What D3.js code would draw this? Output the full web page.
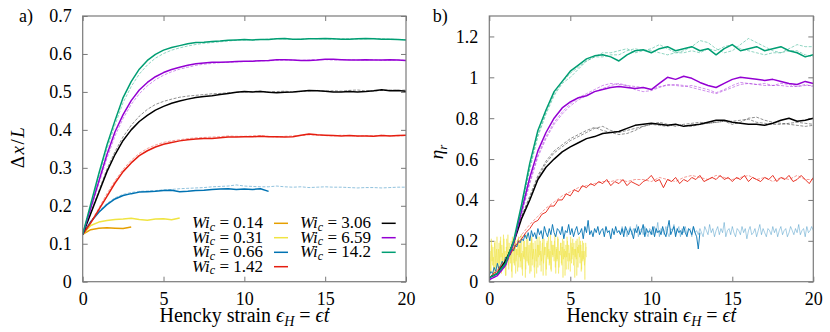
<!DOCTYPE html>
<html><head><meta charset="utf-8">
<script src="https://cdn.jsdelivr.net/npm/d3@7"></script>
<style>
body{margin:0;background:#fff}
</style>
</head><body>
<svg id="c" width="830" height="332"></svg>
<script>
// ---------- data ----------
const strain = [0,0.5,1,1.5,2,2.5,3,3.5,4,4.5,5,5.5,6,6.5,7,7.5,8,8.5,9,9.5,10,10.5,11,11.5,12,12.5,13,13.5,14,14.5,15,15.5,16,16.5,17,17.5,18,18.5,19,19.5,20];
const xTicks = [0,5,10,15,20];
const yTicksA = [0,0.1,0.2,0.3,0.4,0.5,0.6,0.7];
const yTicksB = [0,0.2,0.4,0.6,0.8,1,1.2];
const wiLabels = ["0.14","0.31","0.66","1.42","3.06","6.59","14.2"];
const colors = ["#E69F00","#F0E442","#0072B2","#E51E10","#000000","#9400D3","#009E73"];

// panel a: Δx/L
const orangeA = [0.125,0.137,0.141,0.142,0.141,0.14,0.144];
const yellowA = [0.125,0.148,0.157,0.161,0.164,0.165,0.167,0.164,0.162,0.165,0.166,0.163,0.168];
const blueA = [0.125,0.158,0.183,0.203,0.218,0.227,0.232,0.236,0.237,0.238,0.24,0.241,0.237,0.238,0.24,0.241,0.243,0.244,0.245,0.243,0.244,0.243,0.245,0.238];
const blueA2 = [0.125,0.16,0.186,0.206,0.221,0.23,0.235,0.238,0.239,0.24,0.242,0.243,0.245,0.246,0.247,0.248,0.25,0.251,0.252,0.255,0.252,0.251,0.25,0.25,0.252,0.25,0.249,0.25,0.248,0.249,0.25,0.249,0.249,0.248,0.247,0.248,0.248,0.247,0.248,0.249,0.249];
const redA = [0.125,0.155,0.19,0.225,0.26,0.29,0.313,0.332,0.345,0.355,0.362,0.367,0.371,0.374,0.376,0.377,0.377,0.379,0.381,0.381,0.382,0.382,0.383,0.382,0.382,0.381,0.382,0.386,0.389,0.387,0.386,0.385,0.384,0.385,0.384,0.384,0.383,0.385,0.384,0.385,0.386];
const redA2 = [0.125,0.157,0.194,0.232,0.266,0.296,0.32,0.338,0.351,0.36,0.367,0.371,0.374,0.377,0.379,0.38,0.381,0.382,0.384,0.383,0.383,0.384,0.385,0.383,0.381,0.383,0.384,0.385,0.387,0.386,0.385,0.384,0.386,0.385,0.383,0.385,0.384,0.386,0.385,0.384,0.385];
const blackA = [0.125,0.18,0.235,0.29,0.335,0.372,0.4,0.422,0.438,0.452,0.462,0.47,0.476,0.481,0.485,0.488,0.49,0.493,0.496,0.499,0.501,0.5,0.501,0.499,0.498,0.499,0.5,0.502,0.504,0.503,0.502,0.5,0.5,0.501,0.5,0.501,0.503,0.506,0.503,0.504,0.502];
const blackA2 = [0.125,0.182,0.24,0.297,0.343,0.382,0.412,0.436,0.454,0.467,0.475,0.481,0.486,0.489,0.491,0.493,0.495,0.496,0.498,0.499,0.5,0.501,0.502,0.5,0.501,0.502,0.5,0.501,0.503,0.504,0.502,0.503,0.502,0.504,0.505,0.503,0.502,0.504,0.505,0.504,0.505];
const purpleA = [0.125,0.195,0.265,0.335,0.395,0.44,0.477,0.505,0.525,0.54,0.551,0.559,0.565,0.57,0.574,0.576,0.578,0.578,0.579,0.58,0.581,0.581,0.582,0.583,0.585,0.585,0.584,0.583,0.583,0.584,0.586,0.586,0.585,0.584,0.584,0.585,0.584,0.584,0.585,0.584,0.583];
const purpleA2 = [0.125,0.19,0.258,0.325,0.384,0.43,0.467,0.495,0.516,0.532,0.544,0.553,0.56,0.565,0.57,0.573,0.575,0.577,0.578,0.579,0.58,0.581,0.582,0.582,0.583,0.584,0.584,0.583,0.584,0.585,0.585,0.584,0.585,0.585,0.584,0.584,0.585,0.583,0.584,0.584,0.583];
const greenA = [0.125,0.205,0.285,0.36,0.425,0.485,0.527,0.56,0.583,0.599,0.61,0.617,0.622,0.627,0.63,0.631,0.633,0.634,0.636,0.637,0.638,0.637,0.638,0.638,0.64,0.641,0.639,0.639,0.64,0.64,0.641,0.64,0.639,0.639,0.64,0.641,0.64,0.639,0.639,0.638,0.637];
const greenA2 = [0.125,0.2,0.278,0.35,0.413,0.472,0.514,0.547,0.571,0.589,0.601,0.61,0.616,0.621,0.625,0.628,0.63,0.632,0.634,0.636,0.637,0.637,0.638,0.639,0.64,0.64,0.638,0.639,0.641,0.64,0.64,0.639,0.64,0.64,0.639,0.64,0.641,0.64,0.639,0.638,0.638];

// panel b: η_r
const yellowBStep = 0.05;
const yellowB = [0.02,0.15,0.04,0.18,0.08,0.12,0.03,0.2,0.06,0.16, 0.1,0.05,0.19,0.09,0.22,0.04,0.14,0.07,0.21,0.11, 0.03,0.17,0.12,0.23,0.06,0.15,0.09,0.2,0.02,0.13, 0.18,0.08,0.21,0.1,0.16,0.05,0.22,0.12,0.19,0.07, 0.14,0.03,0.2,0.11,0.17,0.06,0.23,0.13,0.09,0.18, 0.04,0.15,0.21,0.08,0.19,0.12,0.02,0.16,0.1,0.22, 0.07,0.18,0.13,0.2,0.05,0.14,0.21,0.09,0.17,0.11, 0.03,0.19,0.12,0.22,0.08,0.15,0.06,0.2,0.13,0.18, 0.1,0.23,0.04,0.16,0.11,0.21,0.07,0.14,0.19,0.09, 0.17,0.02,0.2,0.12,0.15,0.06,0.22,0.1,0.18,0.13, 0.05,0.19,0.11,0.21,0.08,0.16,0.12,0.2,0.03,0.17, 0.14,0.22,0.09,0.18,0.06,0.2,0.11,0.15,0.01,0.19, 0.12];
const yellowB2Start = 0.025;
const yellowB2 = [0.12,0.05,0.21,0.1,0.17,0.02,0.19,0.13,0.07,0.22, 0.09,0.16,0.04,0.2,0.12,0.18,0.06,0.23,0.1,0.15, 0.03,0.21,0.14,0.08,0.19,0.11,0.17,0.05,0.22,0.12, 0.09,0.2,0.04,0.16,0.13,0.21,0.07,0.18,0.1,0.23, 0.06,0.15,0.12,0.2,0.02,0.17,0.1,0.21,0.08,0.14, 0.19,0.05,0.22,0.11,0.16,0.07,0.2,0.13,0.04,0.18, 0.12,0.22,0.08,0.15,0.1,0.19,0.03,0.21,0.13,0.17, 0.06,0.2,0.11,0.16,0.09,0.23,0.05,0.18,0.12,0.14, 0.2,0.07,0.17,0.1,0.22,0.04,0.15,0.13,0.19,0.08, 0.21,0.11,0.16,0.03,0.18,0.12,0.2,0.06,0.14,0.1, 0.22,0.09,0.17,0.13,0.19,0.02,0.16,0.11,0.21,0.07, 0.18,0.12,0.2,0.05,0.15,0.1,0.19,0.08,0.13,0.17];
const blueBStep = 0.1;
const blueB = [0.03,0.05,0.04,0.07,0.05,0.09,0.06,0.08,0.1,0.08,0.12,
  0.11,0.14,0.13,0.16,0.15,0.18,0.17,0.2,0.19,0.21,
  0.2,0.23,0.21,0.24,0.2,0.25,0.22,0.24,0.21,0.26,
  0.23,0.25,0.21,0.27,0.24,0.22,0.26,0.23,0.28,0.24,
  0.22,0.26,0.25,0.23,0.27,0.21,0.25,0.24,0.28,0.23,
  0.26,0.22,0.25,0.27,0.23,0.24,0.26,0.21,0.27,0.24,
  0.3,0.23,0.25,0.22,0.26,0.24,0.27,0.23,0.25,0.26,
  0.22,0.27,0.24,0.25,0.21,0.26,0.23,0.27,0.24,0.25,
  0.23,0.26,0.22,0.27,0.25,0.23,0.26,0.24,0.21,0.26,
  0.24,0.27,0.23,0.25,0.28,0.22,0.26,0.24,0.25,0.23,
  0.27,0.22,0.26,0.24,0.25,0.23,0.27,0.24,0.22,0.26,
  0.3,0.23,0.25,0.27,0.22,0.26,0.24,0.25,0.23,0.27,
  0.24,0.22,0.26,0.25,0.23,0.27,0.24,0.22,0.16,0.24];
const blueB2Start = 8;
const blueB2 = [0.25,0.23,0.27,0.24,0.26,0.22,0.25,0.27,0.23,0.26,
  0.24,0.28,0.22,0.25,0.26,0.23,0.27,0.24,0.22,0.26,
  0.25,0.23,0.27,0.24,0.29,0.22,0.26,0.25,0.23,0.27,
  0.24,0.22,0.26,0.25,0.28,0.23,0.25,0.27,0.22,0.26,
  0.24,0.27,0.23,0.25,0.26,0.22,0.27,0.24,0.25,0.23,
  0.26,0.24,0.22,0.27,0.25,0.23,0.28,0.24,0.26,0.22,
  0.25,0.27,0.23,0.26,0.24,0.29,0.22,0.25,0.26,0.23,
  0.27,0.24,0.22,0.26,0.25,0.23,0.27,0.24,0.26,0.21,
  0.25,0.27,0.23,0.24,0.26,0.22,0.25,0.28,0.23,0.26,
  0.24,0.22,0.26,0.25,0.23,0.27,0.24,0.26,0.22,0.25,
  0.27,0.23,0.25,0.26,0.22,0.24,0.27,0.25,0.23,0.26,
  0.24,0.28,0.23,0.25,0.26,0.22,0.27,0.24,0.25,0.27,
  0.25];
const redBStep = 0.25;
const redB = [0.02,0.04,0.05,0.08,0.1,0.13,0.16,0.19,0.21,0.24, 0.26,0.29,0.3,0.33,0.34,0.37,0.37,0.4,0.4,0.43, 0.42,0.45,0.44,0.47,0.46,0.48,0.47,0.49,0.48,0.5, 0.47,0.49,0.48,0.5,0.47,0.49,0.48,0.47,0.49,0.5, 0.52,0.49,0.5,0.46,0.5,0.49,0.51,0.48,0.5,0.49, 0.51,0.5,0.52,0.49,0.5,0.51,0.5,0.52,0.5,0.51, 0.49,0.51,0.5,0.52,0.49,0.51,0.5,0.49,0.51,0.5, 0.52,0.49,0.51,0.5,0.52,0.49,0.5,0.52,0.5,0.48, 0.51];
const redB2 = [0.02,0.06,0.11,0.17,0.23,0.28,0.32,0.36,0.39,0.42,0.44,0.46,0.47,0.48,0.49,0.49,0.5,0.49,0.5,0.5,0.49,0.51,0.5,0.49,0.51,0.52,0.51,0.5,0.52,0.51,0.5,0.51,0.52,0.5,0.51,0.49,0.51,0.5,0.52,0.5,0.5];
const blackB = [0.02,0.04,0.1,0.19,0.31,0.4,0.5,0.56,0.6,0.635,0.66,0.68,0.7,0.71,0.725,0.73,0.735,0.75,0.765,0.77,0.775,0.77,0.765,0.77,0.76,0.765,0.77,0.78,0.79,0.79,0.78,0.775,0.77,0.77,0.765,0.775,0.79,0.8,0.785,0.79,0.8];
const blackB2 = [0.02,0.04,0.1,0.2,0.32,0.42,0.52,0.59,0.64,0.67,0.7,0.72,0.74,0.755,0.74,0.73,0.72,0.725,0.74,0.76,0.77,0.78,0.77,0.76,0.77,0.775,0.78,0.775,0.78,0.785,0.77,0.78,0.8,0.805,0.79,0.78,0.775,0.77,0.765,0.76,0.765];
const blackB3 = [0.02,0.04,0.1,0.2,0.32,0.41,0.51,0.58,0.63,0.66,0.69,0.71,0.73,0.75,0.76,0.74,0.73,0.74,0.75,0.76,0.77,0.765,0.76,0.77,0.765,0.76,0.77,0.775,0.78,0.785,0.785,0.79,0.795,0.78,0.775,0.77,0.77,0.775,0.78,0.775,0.77];
const purpleB = [0.01,0.03,0.08,0.19,0.35,0.51,0.64,0.73,0.8,0.85,0.88,0.9,0.91,0.93,0.94,0.95,0.955,0.95,0.945,0.95,0.94,0.97,1.0,0.99,1.005,0.995,0.975,0.96,0.95,0.97,0.99,1.0,0.995,0.99,0.985,0.99,0.98,0.97,0.965,0.98,0.97];
const purpleB2 = [0.01,0.03,0.08,0.19,0.34,0.49,0.62,0.71,0.78,0.83,0.87,0.9,0.92,0.94,0.96,0.97,0.965,0.96,0.955,0.95,0.94,0.955,0.96,0.965,0.96,0.95,0.94,0.93,0.92,0.935,0.95,0.965,0.97,0.965,0.96,0.96,0.96,0.955,0.955,0.96,0.96];
const purpleB3 = [0.01,0.03,0.075,0.18,0.33,0.48,0.61,0.7,0.77,0.82,0.86,0.89,0.91,0.93,0.945,0.96,0.97,0.96,0.94,0.93,0.935,0.95,0.965,0.96,0.955,0.96,0.95,0.94,0.925,0.94,0.96,0.975,0.97,0.965,0.97,0.96,0.97,0.965,0.955,0.965,0.955];
const greenB = [0.02,0.04,0.09,0.2,0.38,0.58,0.74,0.84,0.93,0.98,1.03,1.06,1.09,1.105,1.11,1.10,1.08,1.11,1.13,1.135,1.12,1.14,1.15,1.13,1.14,1.15,1.13,1.14,1.11,1.14,1.16,1.13,1.14,1.15,1.13,1.14,1.15,1.13,1.12,1.10,1.11];
const greenB2 = [0.02,0.04,0.085,0.19,0.36,0.55,0.71,0.82,0.91,0.97,1.0,1.04,1.08,1.1,1.12,1.12,1.13,1.14,1.12,1.13,1.14,1.16,1.14,1.12,1.13,1.15,1.18,1.17,1.14,1.12,1.13,1.16,1.19,1.17,1.15,1.13,1.12,1.14,1.16,1.15,1.15];
const greenB3 = [0.02,0.04,0.085,0.19,0.37,0.56,0.72,0.83,0.92,0.975,1.02,1.05,1.08,1.1,1.1,1.11,1.11,1.13,1.14,1.13,1.13,1.12,1.11,1.12,1.12,1.13,1.12,1.14,1.13,1.15,1.16,1.14,1.13,1.12,1.11,1.12,1.12,1.13,1.13,1.11,1.1];

// ---------- helpers ----------
const FONT = "'Liberation Serif','DejaVu Serif','Times New Roman',serif";
const onGrid = ys => ys.map((y, i) => [strain[i], y]);
const stepped = (ys, start, step) => ys.map((y, i) => [start + i * step, y]);

const svg = d3.select("#c").attr("font-family", FONT).style("font-family", FONT);
const frameColor = "#7a7a7a";

function series(pts, ci, kind) { return {pts, color: colors[ci], kind}; }
function txt(sel) { return sel.attr("font-family", FONT).style("font-family", FONT).attr("fill", "#000"); }

const panels = [
  {
    px: [82.7, 406], py: [281.7, 16], dom: [0, 0.7], yt: yTicksA, tag: "a)", tagX: 19,
    lines: [
      series(onGrid(orangeA), 0, "main"),
      series(onGrid(yellowA), 1, "main"),
      series(onGrid(blueA2), 2, "dash"),
      series(onGrid(blueA), 2, "main"),
      series(onGrid(redA2), 3, "dash"),
      series(onGrid(redA), 3, "main"),
      series(onGrid(blackA2), 4, "dash"),
      series(onGrid(blackA), 4, "main"),
      series(onGrid(purpleA2), 5, "dash"),
      series(onGrid(purpleA), 5, "main"),
      series(onGrid(greenA2), 6, "dash"),
      series(onGrid(greenA), 6, "main")
    ]
  },
  {
    px: [489.3, 813.3], py: [281.7, 16], dom: [0, 1.3], yt: yTicksB, tag: "b)", tagX: 432.7,
    lines: [
      series(stepped(yellowB2, yellowB2Start, yellowBStep), 1, "noise"),
      series(stepped(yellowB, 0, yellowBStep), 1, "noise"),
      series(stepped(blueB2, blueB2Start, blueBStep), 2, "lightnoise"),
      series(stepped(blueB, 0, blueBStep), 2, "thin"),
      series(onGrid(redB2), 3, "dash"),
      series(stepped(redB, 0, redBStep), 3, "thin"),
      series(onGrid(blackB2), 4, "dash"),
      series(onGrid(blackB3), 4, "dash"),
      series(onGrid(blackB), 4, "main"),
      series(onGrid(purpleB2), 5, "dash"),
      series(onGrid(purpleB3), 5, "dash"),
      series(onGrid(purpleB), 5, "main"),
      series(onGrid(greenB2), 6, "dash"),
      series(onGrid(greenB3), 6, "dash"),
      series(onGrid(greenB), 6, "main")
    ]
  }
];

const fmt = d => String(+d.toFixed(1));

panels.forEach((p, pi) => {
  const x = d3.scaleLinear().domain([0, 20]).range(p.px);
  const y = d3.scaleLinear().domain(p.dom).range(p.py);
  const g = svg.append("g");

  const cid = "clip" + pi;
  svg.append("clipPath").attr("id", cid).append("rect")
    .attr("x", p.px[0]).attr("y", p.py[1]).attr("width", p.px[1] - p.px[0]).attr("height", p.py[0] - p.py[1]);

  const styleAxis = sel => {
    sel.attr("font-family", FONT).attr("font-size", 18);
    sel.select(".domain").remove();
    sel.selectAll(".tick line").attr("stroke", frameColor).attr("stroke-width", 1);
  };
  const bx = g.append("g").attr("transform", `translate(0,${p.py[0]})`)
    .call(d3.axisBottom(x).tickValues(xTicks).tickFormat(d3.format("d")).tickSizeInner(-5).tickSizeOuter(0));
  styleAxis(bx);
  txt(bx.selectAll("text")).attr("y", 23).attr("dy", null).style("font-size", "18px");
  const tx = g.append("g").attr("transform", `translate(0,${p.py[1]})`)
    .call(d3.axisTop(x).tickValues(xTicks).tickFormat("").tickSizeInner(-5).tickSizeOuter(0));
  styleAxis(tx);
  const ly = g.append("g").attr("transform", `translate(${p.px[0]},0)`)
    .call(d3.axisLeft(y).tickValues(p.yt).tickFormat(fmt).tickSizeInner(-5).tickSizeOuter(0).tickPadding(11));
  styleAxis(ly);
  txt(ly.selectAll("text")).attr("dy", "0.33em").style("font-size", "18px");
  const ry = g.append("g").attr("transform", `translate(${p.px[1]},0)`)
    .call(d3.axisRight(y).tickValues(p.yt).tickFormat("").tickSizeInner(-5).tickSizeOuter(0));
  styleAxis(ry);

  const line = d3.line().x(d => x(d[0])).y(d => y(d[1]));
  const lg = g.append("g").attr("clip-path", `url(#${cid})`);
  p.lines.forEach(s => {
    const path = lg.append("path").attr("d", line(s.pts)).attr("fill", "none")
      .attr("stroke", s.color).attr("stroke-linejoin", "round");
    if (s.kind === "main") path.attr("stroke-width", 1.5);
    if (s.kind === "thin") path.attr("stroke-width", 0.9);
    if (s.kind === "dash") path.attr("stroke-width", 0.8).attr("stroke-opacity", 0.55).attr("stroke-dasharray", "3,1.5");
    if (s.kind === "lightnoise") path.attr("stroke-width", 0.7).attr("stroke-opacity", 0.5);
    if (s.kind === "noise") path.attr("stroke-width", 0.6).attr("stroke-opacity", 0.8);
  });

  g.append("rect").attr("x", p.px[0]).attr("y", p.py[1])
    .attr("width", p.px[1] - p.px[0]).attr("height", p.py[0] - p.py[1])
    .attr("fill", "none").attr("stroke", frameColor).attr("stroke-width", 1.2);

  txt(g.append("text")).attr("x", p.tagX).attr("y", 22).style("font-size", "18px").text(p.tag);

  const xt = txt(g.append("text")).attr("x", (p.px[0] + p.px[1]) / 2).attr("y", 322)
    .attr("text-anchor", "middle").style("font-size", "20px");
  xt.append("tspan").text("Hencky strain ");
  xt.append("tspan").style("font-style", "italic").text("\u03F5");
  xt.append("tspan").attr("dy", 4).style("font-size", "14px").style("font-style", "italic").text("H");
  xt.append("tspan").attr("dy", -4).text(" = ");
  xt.append("tspan").style("font-style", "italic").text("\u03F5\u0307t");
});

const yA = txt(svg.append("text")).attr("transform", "translate(24,147) rotate(-90)")
  .attr("text-anchor", "middle").style("font-size", "19px").style("letter-spacing", "1.5px");
yA.append("tspan").text("\u0394");
yA.append("tspan").style("font-style", "italic").text("x");
yA.append("tspan").text("/");
yA.append("tspan").style("font-style", "italic").text("L");

const yB = txt(svg.append("text")).attr("transform", "translate(443,152) rotate(-90)")
  .attr("text-anchor", "middle").style("font-size", "19px");
yB.append("tspan").style("font-style", "italic").text("\u03B7");
yB.append("tspan").attr("dy", 4).style("font-size", "13px").style("font-style", "italic").text("r");

const legRows = [223.3, 237.7, 252.3, 266.7];
const legCols = [{tx: 263, l0: 274, l1: 288}, {tx: 371, l0: 381.7, l1: 395.7}];
const lgG = svg.append("g");
wiLabels.forEach((lab, i) => {
  const col = legCols[i < 4 ? 0 : 1];
  const ry = legRows[i < 4 ? i : i - 4];
  const t = txt(lgG.append("text")).attr("x", col.tx).attr("y", ry + 5).attr("text-anchor", "end").style("font-size", "17px");
  t.append("tspan").style("font-style", "italic").text("Wi");
  t.append("tspan").attr("dy", 2.5).style("font-size", "12px").style("font-style", "italic").text("c");
  t.append("tspan").attr("dy", -2.5).text(" = " + lab);
  lgG.append("line").attr("x1", col.l0).attr("x2", col.l1).attr("y1", ry).attr("y2", ry)
    .attr("stroke", colors[i]).attr("stroke-width", 1.5);
});
</script>
</body></html>
